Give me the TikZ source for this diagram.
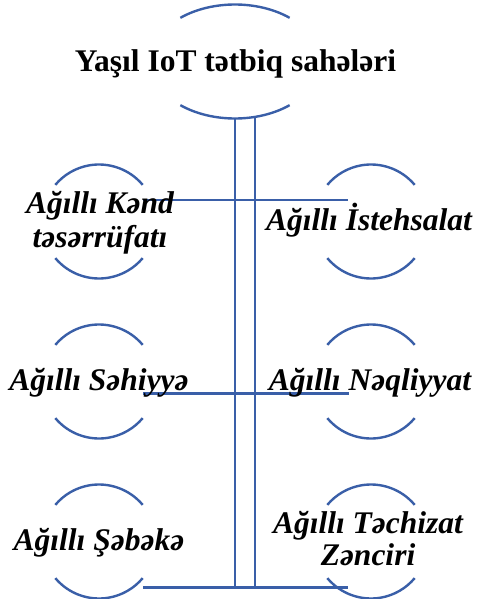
\documentclass[tikz,border=0pt]{standalone}
\usepackage{fontspec}
\setmainfont{Liberation Serif}
\definecolor{arcblue}{RGB}{58,95,168}
\tikzset{
  arcline/.style={draw=arcblue, line width=2.4pt},
  linkline/.style={draw=arcblue, line width=2.4pt},
  areatext/.style={anchor=base, inner sep=0pt, align=center,
    font=\fontsize{31.5}{33}\selectfont\bfseries\itshape},
  titletext/.style={anchor=base, inner sep=0pt,
    font=\fontsize{31.5}{34}\selectfont\bfseries}
}
\begin{document}
\begin{tikzpicture}[x=1pt,y=1pt]
\useasboundingbox (0,0) rectangle (477,-599);

% centres of the arc pairs
\coordinate (top) at (235,-61.5);
\coordinate (c1) at (99,-221.5);
\coordinate (c2) at (371,-221.5);
\coordinate (c3) at (99,-381.5);
\coordinate (c4) at (371,-381.5);
\coordinate (c5) at (99,-541.5);
\coordinate (c6) at (371,-541.5);

% title arcs
\draw[arcline] ([shift={(50:85 and 57)}]top) arc[start angle=50, end angle=130, x radius=85, y radius=57];
\draw[arcline] ([shift={(230:85 and 57)}]top) arc[start angle=230, end angle=310, x radius=85, y radius=57];

% arc pairs around each area
\foreach \c in {c1,c2,c3,c4,c5,c6}{
  \draw[arcline] ([shift={(40:57)}]\c) arc[start angle=40, end angle=140, radius=57];
  \draw[arcline] ([shift={(220:57)}]\c) arc[start angle=220, end angle=320, radius=57];
}

% trunk and branches
\coordinate (trunkLtop) at (235,-118);
\coordinate (trunkRtop) at (255,-118);
\coordinate (trunkLbot) at (235,-587.5);
\coordinate (trunkRbot) at (255,-587.5);
\draw[linkline] (trunkLtop) -- (trunkLbot);
\draw[linkline] (trunkRtop) -- (trunkRbot);

\coordinate (b1l) at (143,-200);
\coordinate (b1r) at (348,-200);
\coordinate (b2l) at (143,-393.5);
\coordinate (b2r) at (349,-393.5);
\coordinate (b3l) at (143,-587.5);
\coordinate (b3r) at (348,-587.5);
\draw[linkline] (b1l) -- (b1r);
\draw[linkline] (b2l) -- (b2r);
\draw[linkline] (b3l) -- (b3r);

% texts (base anchor of a two-line node sits on its last line)
\node[titletext] (title) at (235.5,-72) {Yaşıl IoT tətbiq sahələri};
\node[areatext] (kend) at (100,-247) {Ağıllı Kənd\\[1pt]təsərrüfatı};
\node[areatext] (istehsal) at (369,-230) {Ağıllı İstehsalat};
\node[areatext] (sehiyye) at (99,-390) {Ağıllı Səhiyyə};
\node[areatext] (neqliyyat) at (370,-390) {Ağıllı Nəqliyyat};
\node[areatext] (sebeke) at (99,-550) {Ağıllı Şəbəkə};
\node[areatext] (techizat) at (368,-565) {Ağıllı Təchizat\\[-1pt]Zənciri};
\end{tikzpicture}
\end{document}
